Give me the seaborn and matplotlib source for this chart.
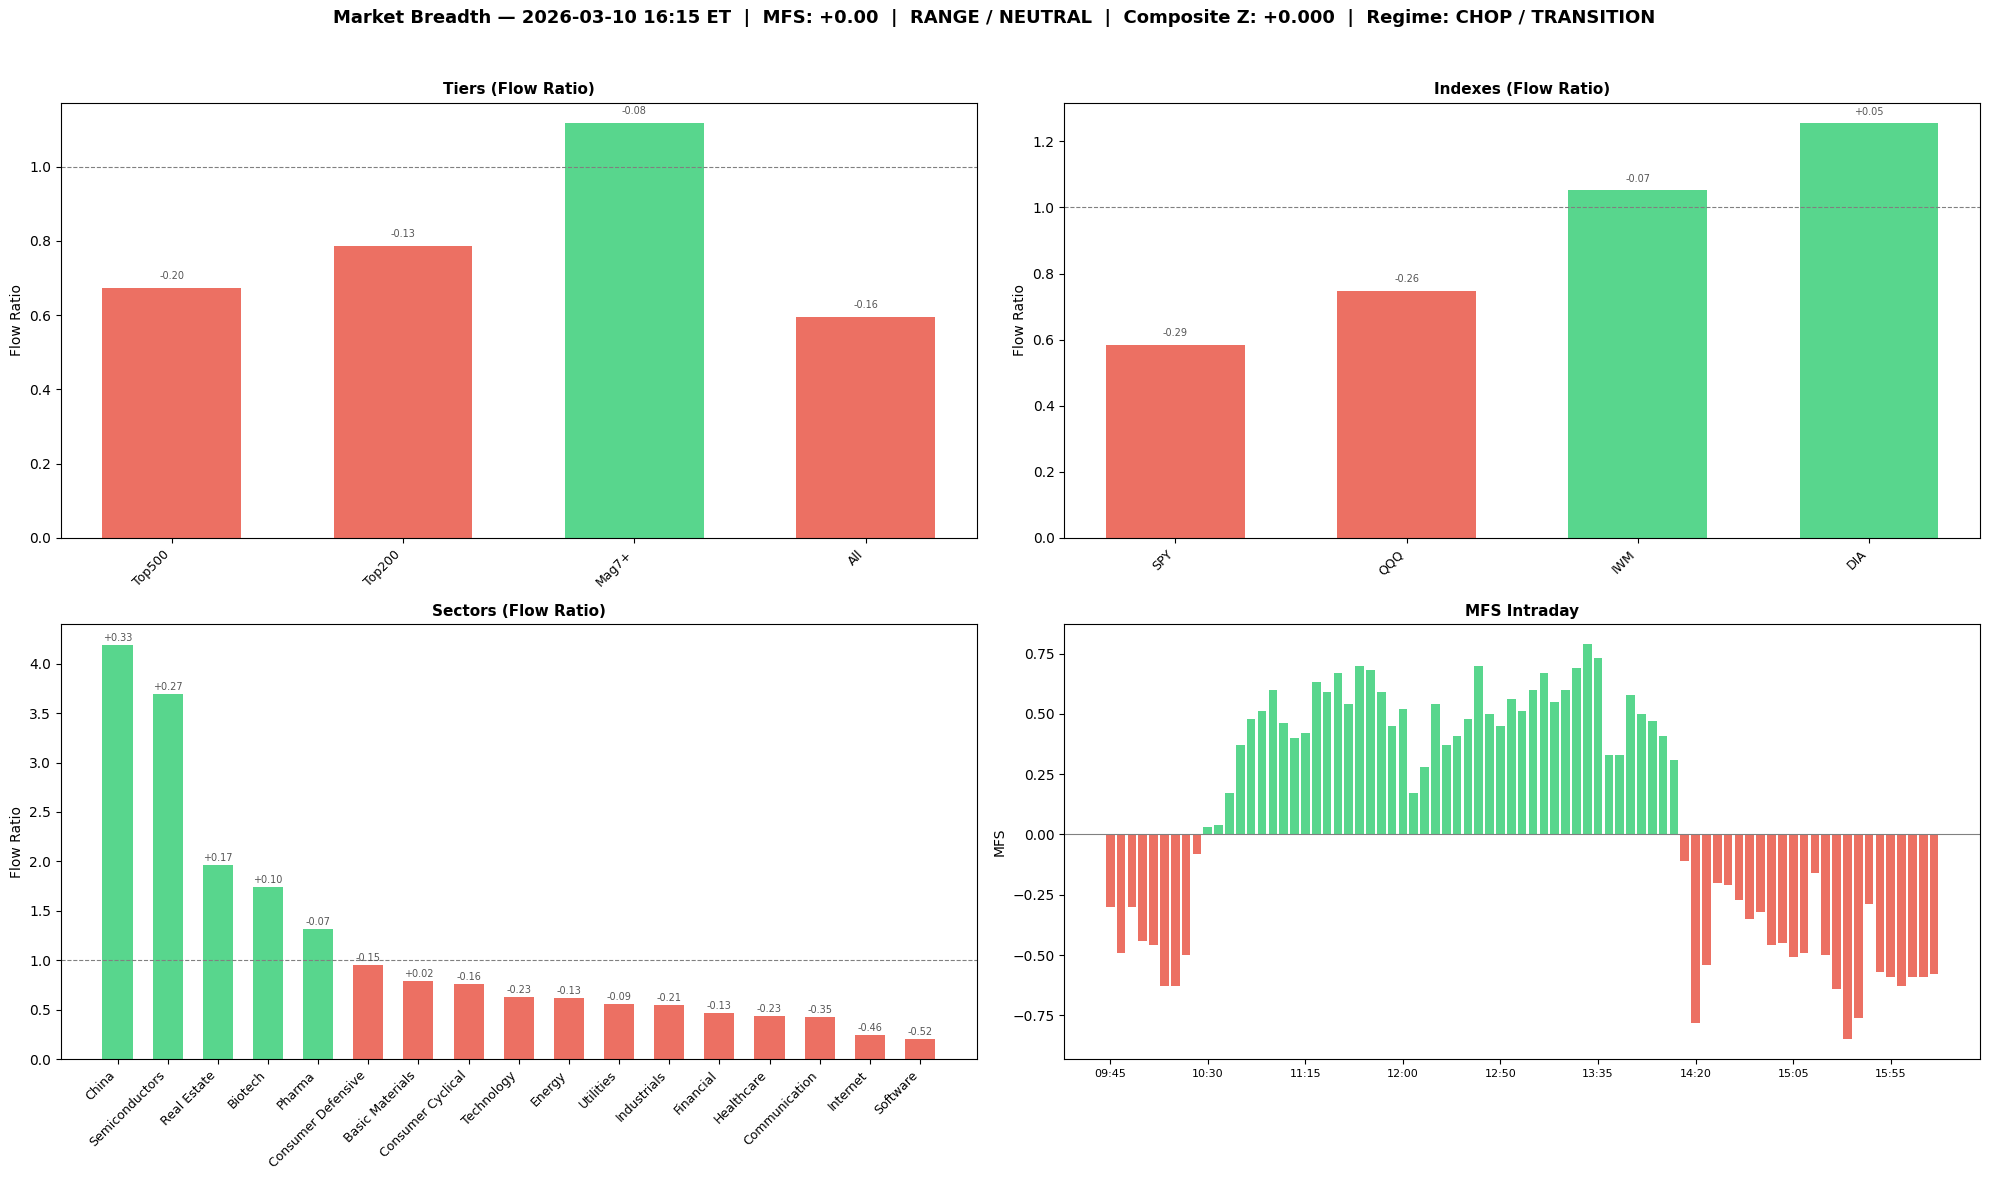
import pandas as pd
import matplotlib
matplotlib.use('Agg')
import matplotlib.pyplot as plt
import seaborn as sns

# Data
tiers = ['Top500', 'Top200', 'Mag7+', 'All']
tier_ratio = [0.673, 0.786, 1.116, 0.595]
tier_score = ['-0.20', '-0.13', '-0.08', '-0.16']

indexes = ['SPY', 'QQQ', 'IWM', 'DIA']
index_ratio = [0.584, 0.747, 1.052, 1.254]
index_score = ['-0.29', '-0.26', '-0.07', '+0.05']

sectors = ['China', 'Semiconductors', 'Real Estate', 'Biotech', 'Pharma',
           'Consumer Defensive', 'Basic Materials', 'Consumer Cyclical',
           'Technology', 'Energy', 'Utilities', 'Industrials', 'Financial',
           'Healthcare', 'Communication', 'Internet', 'Software']
sector_ratio = [4.19, 3.69, 1.96, 1.74, 1.32, 0.955, 0.79, 0.76, 0.63, 0.62,
                0.56, 0.55, 0.47, 0.44, 0.43, 0.245, 0.205]
sector_score = ['+0.33', '+0.27', '+0.17', '+0.10', '-0.07', '-0.15', '+0.02',
                '-0.16', '-0.23', '-0.13', '-0.09', '-0.21', '-0.13', '-0.23',
                '-0.35', '-0.46', '-0.52']

times = ['09:45', '09:50', '09:55', '10:00', '10:05', '10:10', '10:15', '10:20', '10:25',
         '10:30', '10:35', '10:40', '10:45', '10:50', '10:55', '11:00', '11:05', '11:10',
         '11:15', '11:20', '11:25', '11:30', '11:35', '11:40', '11:45', '11:50', '11:55',
         '12:00', '12:05', '12:10', '12:15', '12:25', '12:30', '12:35', '12:40', '12:45',
         '12:50', '12:55', '13:00', '13:05', '13:10', '13:15', '13:20', '13:25', '13:30',
         '13:35', '13:40', '13:45', '13:50', '13:55', '14:00', '14:05', '14:10', '14:15',
         '14:20', '14:25', '14:30', '14:35', '14:40', '14:45', '14:50', '14:55', '15:00',
         '15:05', '15:10', '15:15', '15:20', '15:25', '15:35', '15:40', '15:45', '15:50',
         '15:55', '16:00', '16:05', '16:10', '16:15']
mfs = [-0.30, -0.49, -0.30, -0.44, -0.46, -0.63, -0.63, -0.50, -0.08,
       0.03, 0.04, 0.17, 0.37, 0.48, 0.51, 0.60, 0.46, 0.40,
       0.42, 0.63, 0.59, 0.67, 0.54, 0.70, 0.68, 0.59, 0.45,
       0.52, 0.17, 0.28, 0.54, 0.37, 0.41, 0.48, 0.70, 0.50,
       0.45, 0.56, 0.51, 0.60, 0.67, 0.55, 0.60, 0.69, 0.79,
       0.73, 0.33, 0.33, 0.58, 0.50, 0.47, 0.41, 0.31, -0.11,
       -0.78, -0.54, -0.20, -0.21, -0.27, -0.35, -0.32, -0.46, -0.45,
       -0.51, -0.49, -0.16, -0.50, -0.64, -0.85, -0.76, -0.29, -0.57,
       -0.59, -0.63, -0.59, -0.59, -0.58]

title = ('Market Breadth \u2014 2026-03-10 16:15 ET  |  MFS: +0.00  |  RANGE / NEUTRAL  |  '
         'Composite Z: +0.000  |  Regime: CHOP / TRANSITION')

GREEN = '#58D68D'
RED = '#EC7063'
palette = {'up': GREEN, 'down': RED}

fig, axes = plt.subplots(2, 2, figsize=(19.89, 11.81))
fig.subplots_adjust(left=0.0306, right=0.9955, top=0.913, bottom=0.1031,
                    wspace=0.0957, hspace=0.198)


def ratio_panel(ax, names, ratios, scores, panel_title):
    df = pd.DataFrame({'name': names, 'ratio': ratios})
    df['side'] = ['up' if r > 1 else 'down' for r in df['ratio']]
    sns.barplot(data=df, x='name', y='ratio', hue='side', palette=palette,
                dodge=False, width=0.6, saturation=1, legend=False, ax=ax)
    ax.axhline(1.0, color='grey', linestyle='--', linewidth=0.8)
    for i, (r, s) in enumerate(zip(ratios, scores)):
        ax.text(i, r + 0.02, s, ha='center', va='bottom', fontsize=7, color='#555555')
    n = len(names)
    pad = 0.05 * (n - 1 + 0.6)
    ax.set_xlim(-0.3 - pad, n - 1 + 0.3 + pad)
    ax.set_ylim(0, max(ratios) * 1.05)
    ax.set_title(panel_title, fontsize=11, fontweight='bold')
    ax.set_xlabel('')
    ax.set_ylabel('Flow Ratio', fontsize=10)
    plt.setp(ax.get_xticklabels(), rotation=45, ha='right', fontsize=9)


ratio_panel(axes[0, 0], tiers, tier_ratio, tier_score, 'Tiers (Flow Ratio)')
ratio_panel(axes[0, 1], indexes, index_ratio, index_score, 'Indexes (Flow Ratio)')
ratio_panel(axes[1, 0], sectors, sector_ratio, sector_score, 'Sectors (Flow Ratio)')

# MFS intraday
ax = axes[1, 1]
mfs_df = pd.DataFrame({'time': times, 'mfs': mfs})
mfs_df['side'] = ['up' if v >= 0 else 'down' for v in mfs_df['mfs']]
sns.barplot(data=mfs_df, x='time', y='mfs', hue='side', palette=palette,
            dodge=False, width=0.8, saturation=1, legend=False, ax=ax)
ax.axhline(0, color='grey', linewidth=0.8)
n = len(times)
pad = 0.05 * (n - 1 + 0.8)
ax.set_xlim(-0.4 - pad, n - 1 + 0.4 + pad)
lo, hi = min(mfs), max(mfs)
ax.set_ylim(lo - 0.05 * (hi - lo), hi + 0.05 * (hi - lo))
ax.set_xticks(range(0, n, 9))
ax.set_xticklabels(times[::9], fontsize=8)
ax.set_title('MFS Intraday', fontsize=11, fontweight='bold')
ax.set_xlabel('')
ax.set_ylabel('MFS', fontsize=10)

fig.suptitle(title, fontsize=13, fontweight='bold', y=0.985, va='center')
fig.savefig('out.png', dpi=100)
